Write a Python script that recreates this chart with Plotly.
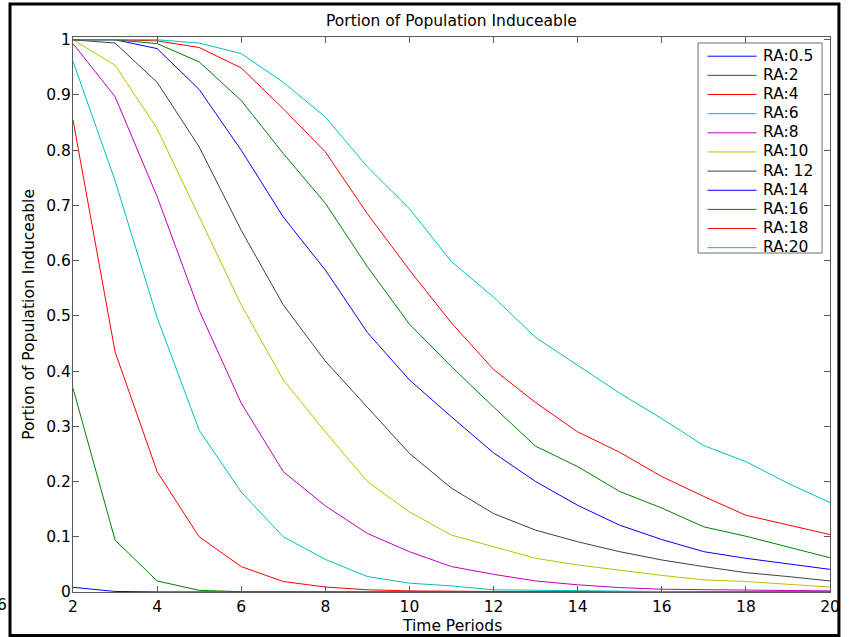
import plotly.graph_objects as go

time_periods = list(range(2, 21))

series_names = ["RA:0.5", "RA:2", "RA:4", "RA:6", "RA:8", "RA:10",
                "RA: 12", "RA:14", "RA:16", "RA:18", "RA:20"]

ra_0_5 = [0.0085, 0.001, 0.0002, 0, 0, 0, 0, 0, 0, 0, 0, 0, 0, 0, 0, 0, 0, 0, 0]
ra_2 = [0.369, 0.094, 0.020, 0.003, 0.0005, 0, 0, 0, 0, 0, 0, 0, 0, 0, 0, 0, 0, 0, 0]
ra_4 = [0.855, 0.435, 0.218, 0.100, 0.046, 0.019, 0.009, 0.004, 0.002, 0.001,
        0.0005, 0.0003, 0.0002, 0.0001, 0, 0, 0, 0, 0]
ra_6 = [0.961, 0.745, 0.497, 0.293, 0.181, 0.100, 0.059, 0.028, 0.016, 0.011,
        0.004, 0.003, 0.002, 0.001, 0.001, 0, 0, 0, 0]
ra_8 = [0.993, 0.897, 0.716, 0.510, 0.342, 0.218, 0.156, 0.106, 0.073, 0.046,
        0.032, 0.020, 0.013, 0.008, 0.005, 0.004, 0.003, 0.002, 0.002]
ra_10 = [1.0, 0.954, 0.839, 0.680, 0.520, 0.384, 0.290, 0.200, 0.145, 0.103,
         0.082, 0.061, 0.049, 0.039, 0.030, 0.022, 0.019, 0.014, 0.009]
ra_12 = [1.0, 0.994, 0.923, 0.806, 0.655, 0.520, 0.418, 0.335, 0.251, 0.188,
         0.142, 0.112, 0.091, 0.073, 0.058, 0.046, 0.035, 0.028, 0.020]
ra_14 = [1.0, 1.0, 0.984, 0.910, 0.800, 0.679, 0.583, 0.470, 0.384, 0.317,
         0.252, 0.200, 0.157, 0.121, 0.095, 0.073, 0.061, 0.051, 0.041]
ra_16 = [1.0, 1.0, 0.993, 0.960, 0.890, 0.794, 0.704, 0.589, 0.485, 0.408,
         0.335, 0.264, 0.227, 0.182, 0.152, 0.118, 0.101, 0.081, 0.062]
ra_18 = [1.0, 1.0, 0.998, 0.986, 0.949, 0.875, 0.797, 0.685, 0.583, 0.487,
         0.403, 0.343, 0.290, 0.253, 0.209, 0.173, 0.139, 0.121, 0.104]
ra_20 = [1.0, 1.0, 1.0, 0.994, 0.975, 0.923, 0.860, 0.770, 0.694, 0.598,
         0.534, 0.461, 0.411, 0.360, 0.314, 0.265, 0.236, 0.197, 0.162]

all_series = [ra_0_5, ra_2, ra_4, ra_6, ra_8, ra_10, ra_12, ra_14, ra_16, ra_18, ra_20]

matlab_colors = ["#0000FF", "#008000", "#FF0000", "#00BFBF", "#BF00BF", "#BFBF00", "#404040"]

y_ticks = [0, 0.1, 0.2, 0.3, 0.4, 0.5, 0.6, 0.7, 0.8, 0.9, 1]
y_tick_labels = ["0", "0.1", "0.2", "0.3", "0.4", "0.5", "0.6", "0.7", "0.8", "0.9", "1"]
x_ticks = [2, 4, 6, 8, 10, 12, 14, 16, 18, 20]

FONT = "DejaVu Sans, Arial, sans-serif"
FS = 15.5

W, H = 852, 637
L, R, T, B = 73, 836, 37, 592
pw, ph = R - L, B - T


def px(xp):
    return (xp - L) / pw


def py(yp):
    return (B - yp) / ph


fig = go.Figure()
colors = []
for i, (name, vals) in enumerate(zip(series_names, all_series)):
    c = matlab_colors[i % len(matlab_colors)]
    colors.append(c)
    fig.add_trace(go.Scatter(
        x=time_periods, y=vals, mode="lines", name=name,
        line=dict(color=c, width=1), showlegend=False,
    ))

axis_common = dict(
    showline=True, linecolor="#5a5a5a", linewidth=1, mirror="ticks",
    ticks="inside", ticklen=6, tickcolor="#5a5a5a", tickwidth=1,
    showgrid=False, zeroline=False,
    tickfont=dict(family=FONT, size=FS, color="black"),
)

annotations = [
    dict(text="Portion of Population Induceable", xref="paper", yref="paper",
         x=0.5, y=py(21), xanchor="center", yanchor="middle", showarrow=False,
         font=dict(family=FONT, size=FS, color="black")),
    dict(text="Time Periods", xref="paper", yref="paper",
         x=0.5, y=py(626), xanchor="center", yanchor="middle", showarrow=False,
         font=dict(family=FONT, size=FS, color="black")),
    dict(text="Portion of Population Induceable", xref="paper", yref="paper",
         x=px(28), y=0.5, xanchor="center", yanchor="middle", showarrow=False,
         textangle=-90, font=dict(family=FONT, size=FS, color="black")),
    dict(text="6", xref="paper", yref="paper",
         x=px(8), y=py(605), xanchor="right", yanchor="middle", showarrow=False,
         font=dict(family=FONT, size=FS, color="black")),
]

shapes = [
    dict(type="rect", xref="paper", yref="paper",
         x0=px(9.5), x1=px(845), y0=py(635.5), y1=py(4),
         line=dict(color="black", width=3), fillcolor="rgba(0,0,0,0)", layer="above"),
    # legend box
    dict(type="rect", xref="paper", yref="paper",
         x0=px(703), x1=px(828), y0=py(253), y1=py(43),
         line=dict(color="#6a6a6a", width=1), fillcolor="white", layer="above"),
]

# custom legend (MATLAB-style: long sample lines, tight rows)
row0, row_step = 56.2, 19.15
for i, name in enumerate(series_names):
    yy = py(row0 + i * row_step)
    shapes.append(dict(type="line", xref="paper", yref="paper",
                       x0=px(712.5), x1=px(762), y0=yy, y1=yy,
                       line=dict(color=colors[i], width=1), layer="above"))
    annotations.append(dict(text=name, xref="paper", yref="paper",
                            x=px(766), y=py(row0 - 0.5 + i * row_step),
                            xanchor="left", yanchor="middle",
                            showarrow=False,
                            font=dict(family=FONT, size=FS, color="black")))

fig.update_layout(
    width=W, height=H,
    margin=dict(l=L, r=W - R, t=T, b=H - B),
    paper_bgcolor="white", plot_bgcolor="white",
    showlegend=False,
    xaxis=dict(range=[2, 20], tickvals=x_ticks, ticklabelstandoff=0, **axis_common),
    yaxis=dict(range=[0, 1.005], tickvals=y_ticks, ticktext=y_tick_labels,
               ticklabelstandoff=-2, **axis_common),
    annotations=annotations,
    shapes=shapes,
)

fig.write_html("out.html", config={"displayModeBar": False},
               post_script="document.body.style.margin='0';document.body.style.padding='0';")
